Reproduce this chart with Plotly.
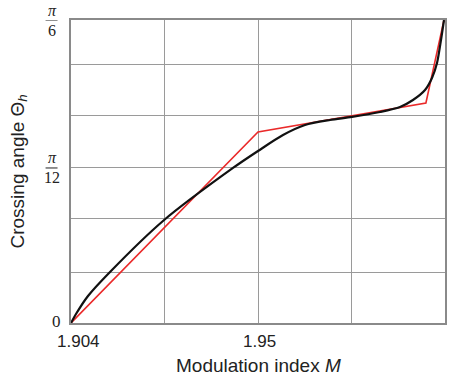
import plotly.graph_objects as go

# ---- data (angles in degrees, x = modulation index M) ----
red_m = [1.904, 1.952, 1.9951, 1.99974]
red_theta = [0.0, 18.91, 21.78, 30.0]

black_m = [1.904, 1.90528, 1.90836, 1.91401, 1.92761, 1.94558,
           1.95200, 1.95842, 1.96406, 1.97048, 1.97613, 1.98331, 1.98845, 1.99178,
           1.99487, 1.99666, 1.99795, 1.99897, 1.99974]
black_theta = [0.0, 0.89, 2.67, 5.05, 10.10, 15.35,
               17.03, 18.61, 19.60, 20.10, 20.40, 20.89, 21.39, 22.08,
               23.07, 24.26, 25.74, 28.02, 30.0]

x_grid = [1.904, 1.928, 1.952, 1.976, 2.0]
x_tick_pos = [1.9059, 1.9525, 2.0009]
x_tick_text = ["1.904", "1.95", "2.0"]
y_grid = [0, 5.05, 10.30, 15.35, 20.50, 25.64, 30.0]
y_tick_pos = [0, 15.35, 30.0]
y_tick_num = ["0", "<i>π</i>", "<i>π</i>"]
y_tick_den = ["", "12", "6"]

fig = go.Figure()
fig.add_trace(go.Scatter(x=red_m, y=red_theta, mode="lines",
                         line=dict(color="#ea2a2a", width=1.6), showlegend=False))
fig.add_trace(go.Scatter(x=black_m, y=black_theta, mode="lines",
                         line=dict(color="#111111", width=2.2, shape="spline", smoothing=0.8),
                         showlegend=False))

fig.update_layout(
    width=463, height=377,
    margin=dict(l=71, r=18, t=20, b=54),
    plot_bgcolor="white", paper_bgcolor="white",
    xaxis=dict(range=[1.904, 2.0], tickvals=x_grid, showticklabels=False,
               showgrid=True, gridcolor="#9a9a9a", gridwidth=1,
               showline=True, linecolor="#8a8a8a", linewidth=1.5, mirror=True,
               zeroline=False, ticks=""),
    yaxis=dict(range=[0, 30], tickvals=y_grid, showticklabels=False,
               showgrid=True, gridcolor="#9a9a9a", gridwidth=1,
               showline=True, linecolor="#8a8a8a", linewidth=1.5, mirror=True,
               zeroline=False, ticks=""),
)

ann = []
for xp, t in zip(x_tick_pos, x_tick_text):
    ann.append(dict(x=xp, y=0, xref="x", yref="y", text=t, showarrow=False,
                    xanchor="center", yanchor="middle", yshift=-18,
                    font=dict(family="Liberation Sans", size=17, color="#222")))

for yp, num, den in zip(y_tick_pos, y_tick_num, y_tick_den):
    if den == "":
        ann.append(dict(x=0, y=yp, xref="paper", yref="y", text=num, showarrow=False,
                        xanchor="right", yanchor="middle", xshift=-8, yshift=2,
                        font=dict(family="Liberation Serif", size=17, color="#222")))
    else:
        ann.append(dict(x=0, y=yp, xref="paper", yref="y", text=num, showarrow=False,
                        xanchor="center", yanchor="middle", xshift=-19, yshift=10,
                        font=dict(family="Liberation Serif", size=16, color="#222")))
        ann.append(dict(x=0, y=yp, xref="paper", yref="y", text=den, showarrow=False,
                        xanchor="center", yanchor="middle", xshift=-19, yshift=-10,
                        font=dict(family="Liberation Serif", size=16, color="#222")))

ann.append(dict(x=0.5, y=0, xref="paper", yref="paper", text="Modulation index <i>M</i>",
                showarrow=False, xanchor="center", yanchor="middle", yshift=-42,
                font=dict(family="Liberation Sans", size=19, color="#222")))
ann.append(dict(x=0, y=0.5, xref="paper", yref="paper",
                text="Crossing angle Θ<sub><i>h</i></sub>", textangle=-90,
                showarrow=False, xanchor="center", yanchor="middle", xshift=-53,
                font=dict(family="Liberation Sans", size=19, color="#222")))
fig.update_layout(annotations=ann)

# fraction bars for pi/12 and pi/6
for yp, den in zip(y_tick_pos, y_tick_den):
    if den:
        fig.add_shape(type="line", xref="paper", yref="y", x0=-0.068, x1=-0.036,
                      y0=yp, y1=yp, line=dict(color="#222", width=1))

fig.write_html("out.html")
